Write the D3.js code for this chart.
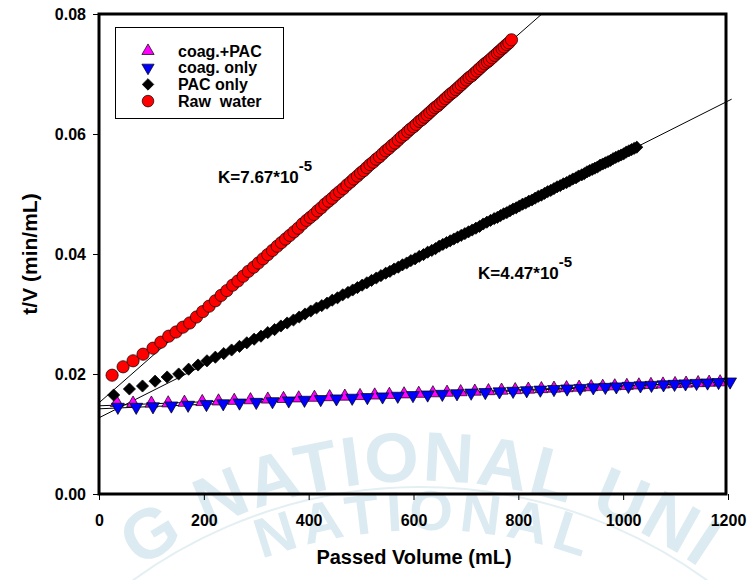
<!DOCTYPE html>
<html>
<head>
<meta charset="utf-8">
<script src="https://cdn.jsdelivr.net/npm/d3@7"></script>
<style>
  html, body { margin: 0; padding: 0; background: #fff; }
  svg { display: block; font-family: "Liberation Sans", Arial, sans-serif; }
</style>
</head>
<body>
<svg id="chart" width="752" height="580"></svg>
<script>
// ---------- DATA ----------
const seriesNames = ["coag.+PAC", "coag. only", "PAC only", "Raw  water"];

const volCoagPac = [34,65,100,132,163,197,228,258,289,322,352,381,411,440,469,498,526,554,582,610,637,664,690,717,743,768,794,819,844,868,892,916,939,961,984,1007,1030,1053,1076,1099,1120,1143,1164,1185];
const tvCoagPac  = [0.0152,0.0151,0.0151,0.01514,0.01524,0.01536,0.01546,0.01556,0.01566,0.01577,0.01587,0.01597,0.01607,0.01617,0.01626,0.01636,0.01645,0.01655,0.01664,0.01673,0.01682,0.01691,0.0170,0.01709,0.01717,0.01726,0.01734,0.01743,0.01751,0.01759,0.01767,0.01775,0.01783,0.0179,0.01798,0.01805,0.01813,0.01821,0.01828,0.01836,0.01843,0.01851,0.01858,0.01865];

const volCoag = [36,71,103,138,170,205,237,268,300,331,362,392,423,453,483,512,541,570,599,627,655,683,710,737,764,790,816,842,868,893,918,943,966,987,1010,1033,1054,1077,1098,1119,1140,1161,1182,1204];
const tvCoag  = [0.0145,0.0145,0.01459,0.01472,0.01484,0.01497,0.01509,0.01521,0.01532,0.01544,0.01556,0.01567,0.01579,0.0159,0.01601,0.01612,0.01623,0.01634,0.01645,0.01655,0.01666,0.01676,0.01686,0.01696,0.01707,0.01716,0.01726,0.01736,0.01746,0.01755,0.01764,0.01774,0.01782,0.0179,0.01799,0.01807,0.01815,0.01824,0.01832,0.0184,0.01848,0.01855,0.01863,0.01872];

const volPac = [28,58,83,107,130,152,171,189,206,222,238,253,268,282,296,309,322,335,347,359,371,382,393,404,415,425,435,445,455,465,475,484,493,502,511,520,529,538,547,555,563,571,579,587,595,603,611,619,627,635,642,649,656,663,670,677,684,691,698,705,712,719,726,733,740,747,754,760,766,772,778,784,790,796,802,808,814,820,826,832,838,844,850,856,862,868,874,880,886,892,898,904,910,915,921,926,931,936,941,946,951,956,961,966,971,976,981,986,991,996,1001,1006,1011,1016,1021,1026];
const tvPac  = [0.0165,0.0175,0.0180,0.0188,0.0195,0.0200,0.0208,0.0215,0.0222,0.0228,0.0234,0.0240,0.0246,0.0252,0.0258,0.0263,0.0269,0.0274,0.0280,0.0285,0.0290,0.0295,0.0300,0.0305,0.0310,0.0314,0.0318,0.0323,0.0327,0.0332,0.0336,0.0340,0.0344,0.0348,0.0352,0.0356,0.0360,0.0364,0.0368,0.0371,0.0375,0.0378,0.0382,0.0385,0.0389,0.0392,0.0396,0.0399,0.0403,0.0406,0.0409,0.0413,0.0416,0.0419,0.0422,0.0425,0.0428,0.0431,0.0434,0.0437,0.0440,0.0443,0.0446,0.0450,0.0453,0.0456,0.0459,0.0461,0.0464,0.0467,0.0469,0.0472,0.0475,0.0477,0.0480,0.0483,0.0485,0.0488,0.0490,0.0493,0.0496,0.0498,0.0501,0.0504,0.0506,0.0509,0.0512,0.0514,0.0517,0.0519,0.0522,0.0525,0.0527,0.0530,0.0532,0.0534,0.0537,0.0539,0.0541,0.0543,0.0545,0.0548,0.0550,0.0552,0.0554,0.0556,0.0559,0.0561,0.0563,0.0565,0.0567,0.0570,0.0572,0.0574,0.0576,0.0578];

const volRaw = [25,46,65,84,103,118,133,147,160,173,186,198,210,222,233,244,255,265,275,285,295,304,313,322,331,340,348,356,364,372,380,388,396,403,410,417,424,431,438,445,452,459,466,473,480,486,493,499,505,511,517,523,529,535,541,547,553,559,565,571,577,583,589,594,600,605,611,616,621,626,631,636,641,646,651,656,661,666,671,676,681,686,691,696,701,706,711,716,721,726,731,736,741,745,750,755,760,764,769,773,778,782,787];
const tvRaw  = [0.0198,0.0212,0.0222,0.0233,0.0243,0.0253,0.0263,0.0270,0.0278,0.0285,0.0295,0.0304,0.0313,0.0322,0.0331,0.0339,0.0348,0.0355,0.0363,0.0371,0.0378,0.0385,0.0392,0.0399,0.0406,0.0413,0.0419,0.0425,0.0431,0.0437,0.0443,0.0450,0.0456,0.0461,0.0466,0.0472,0.0477,0.0483,0.0488,0.0493,0.0499,0.0504,0.0509,0.0515,0.0520,0.0525,0.0530,0.0535,0.0539,0.0544,0.0549,0.0553,0.0558,0.0562,0.0567,0.0572,0.0576,0.0581,0.0585,0.0590,0.0595,0.0599,0.0604,0.0608,0.0612,0.0616,0.0621,0.0624,0.0628,0.0632,0.0636,0.0640,0.0644,0.0647,0.0651,0.0655,0.0659,0.0663,0.0667,0.0670,0.0674,0.0678,0.0682,0.0686,0.0690,0.0694,0.0697,0.0701,0.0705,0.0709,0.0713,0.0717,0.0720,0.0723,0.0727,0.0731,0.0735,0.0738,0.0742,0.0745,0.0749,0.0752,0.0757];

// linear regression lines drawn in the chart (order: coag.+PAC, coag. only, PAC only, Raw water)
const fitIntercepts = [0.0147, 0.0142, 0.0127, 0.0152];
const fitSlopes     = [3.33e-6, 3.75e-6, 4.40e-5, 7.67e-5];
const fitEnds       = [1205, 1205, 1207, 845];

const xTicks = [0, 200, 400, 600, 800, 1000, 1200];
const yTicks = [0.00, 0.02, 0.04, 0.06, 0.08];
const kLabels = ["K=7.67*10", "K=4.47*10"];
const kExp = "-5";
const watermarkOuter = "G NATIONAL UNI";
const watermarkInner = "NATIONAL";

// ---------- CHART ----------
const svg = d3.select("#chart");
const W = 752, H = 580;
const L = 99, R = 728, T = 14, B = 494;

svg.append("rect").attr("width", W).attr("height", H).attr("fill", "#fff");

// faint watermark (seal)
const defs = svg.append("defs");
const wm = svg.append("g").attr("fill", "#dcebf1").attr("stroke", "none");
function arcPath(cx, cy, r, a0, a1) {
  const p = d3.path();
  p.arc(cx, cy, r, a0, a1, false);
  return p.toString();
}
const deg = Math.PI / 180;
defs.append("path").attr("id", "wmOuter").attr("d", arcPath(420, 975, 494, -150 * deg, -30 * deg));
defs.append("path").attr("id", "wmInner").attr("d", arcPath(425, 1000, 470, -140 * deg, -40 * deg));
wm.append("path").attr("d", arcPath(420, 975, 488, -135 * deg, -45 * deg))
  .attr("fill", "none").attr("stroke", "#e3eff3").attr("stroke-width", 2);
wm.append("text").attr("font-size", 70).attr("font-weight", "bold").attr("letter-spacing", 2)
  .append("textPath").attr("href", "#wmOuter").attr("startOffset", "50%").attr("text-anchor", "middle")
  .text(watermarkOuter);
wm.append("text").attr("font-size", 56).attr("font-weight", "bold").attr("letter-spacing", 6)
  .append("textPath").attr("href", "#wmInner").attr("startOffset", "50%").attr("text-anchor", "middle")
  .text(watermarkInner);

const x = d3.scaleLinear().domain([0, 1200]).range([L, R]);
const y = d3.scaleLinear().domain([0, 0.08]).range([B, T]);

// clip for fitted lines (allow slight overshoot to the right)
defs.append("clipPath").attr("id", "plotClip").append("rect")
  .attr("x", L).attr("y", T).attr("width", R - L + 4).attr("height", B - T);

// fitted lines
const fitG = svg.append("g").attr("clip-path", "url(#plotClip)");
fitIntercepts.forEach((b, i) => {
  fitG.append("line")
    .attr("x1", x(0)).attr("y1", y(b))
    .attr("x2", x(fitEnds[i])).attr("y2", y(b + fitSlopes[i] * fitEnds[i]))
    .attr("stroke", "#000").attr("stroke-width", 1);
});

// markers
const series = [
  { v: volCoagPac, t: tvCoagPac, type: d3.symbolTriangle, rot: 0, fill: "#ff00ff", size: 72 },
  { v: volCoag,    t: tvCoag,    type: d3.symbolTriangle, rot: 180, fill: "#0000ff", size: 72 },
  { v: volPac,     t: tvPac,     type: d3.symbolSquare,   rot: 45, fill: "#000000", size: 74 },
  { v: volRaw,     t: tvRaw,     type: d3.symbolCircle,   rot: 0, fill: "#ff0000", size: 118 }
];
series.forEach(s => {
  const pts = d3.zip(s.v, s.t);
  const sym = d3.symbol().type(s.type).size(s.size);
  svg.append("g").selectAll("path").data(pts).join("path")
    .attr("d", sym)
    .attr("transform", d => `translate(${x(d[0])},${y(d[1])}) rotate(${s.rot})`)
    .attr("fill", s.fill).attr("stroke", "#000").attr("stroke-width", 0.7);
});

// axes
const yAxis = d3.axisLeft(y).tickValues(yTicks).tickFormat(d3.format(".2f")).tickSize(6).tickPadding(7);
const gy = svg.append("g").attr("transform", `translate(${L},0)`).call(yAxis);
const xAxis = d3.axisBottom(x).tickValues(xTicks).tickFormat(d3.format("d")).tickSize(6).tickPadding(15);
const gx = svg.append("g").attr("transform", `translate(0,${B})`).call(xAxis);
[gx, gy].forEach(g => {
  g.select(".domain").remove();
  g.selectAll(".tick line").attr("stroke", "#000").attr("stroke-width", 1);
  g.selectAll(".tick text").attr("fill", "#000").attr("font-size", 16).attr("font-weight", "bold")
    .attr("font-family", "'Liberation Sans', Arial, sans-serif");
});

// frame
svg.append("rect").attr("x", L).attr("y", T).attr("width", R - L - 2).attr("height", B - T)
  .attr("fill", "none").attr("stroke", "#000").attr("stroke-width", 3);

// axis titles
svg.append("text").attr("x", 414).attr("y", 564).attr("text-anchor", "middle")
  .attr("font-size", 20).attr("font-weight", "bold").text("Passed Volume (mL)");
svg.append("text").attr("transform", "translate(37,254) rotate(-90)").attr("text-anchor", "middle")
  .attr("font-size", 21).attr("font-weight", "bold").text("t/V (min/mL)");

// K annotations
const kPos = [[218, 183], [478, 279]];
kLabels.forEach((lab, i) => {
  const t = svg.append("text").attr("x", kPos[i][0]).attr("y", kPos[i][1])
    .attr("font-size", 17).attr("font-weight", "bold");
  t.append("tspan").text(lab);
  t.append("tspan").attr("dy", -12).attr("font-size", 15).text(kExp);
});

// legend
const lg = svg.append("g");
lg.append("rect").attr("x", 115.5).attr("y", 27.5).attr("width", 168).attr("height", 91)
  .attr("fill", "#fff").attr("stroke", "#000").attr("stroke-width", 1);
seriesNames.forEach((name, i) => {
  const s = series[i];
  const cy = 51 + i * 16.7;
  lg.append("path").attr("d", d3.symbol().type(s.type).size(s.size * 0.9)())
    .attr("transform", `translate(148,${cy}) rotate(${s.rot})`)
    .attr("fill", s.fill).attr("stroke", "#000").attr("stroke-width", 0.7);
  lg.append("text").attr("x", 178).attr("y", cy + 5.5).attr("font-size", 16).attr("font-weight", "bold")
    .attr("xml:space", "preserve").style("white-space", "pre").text(name);
});
</script>
</body>
</html>
